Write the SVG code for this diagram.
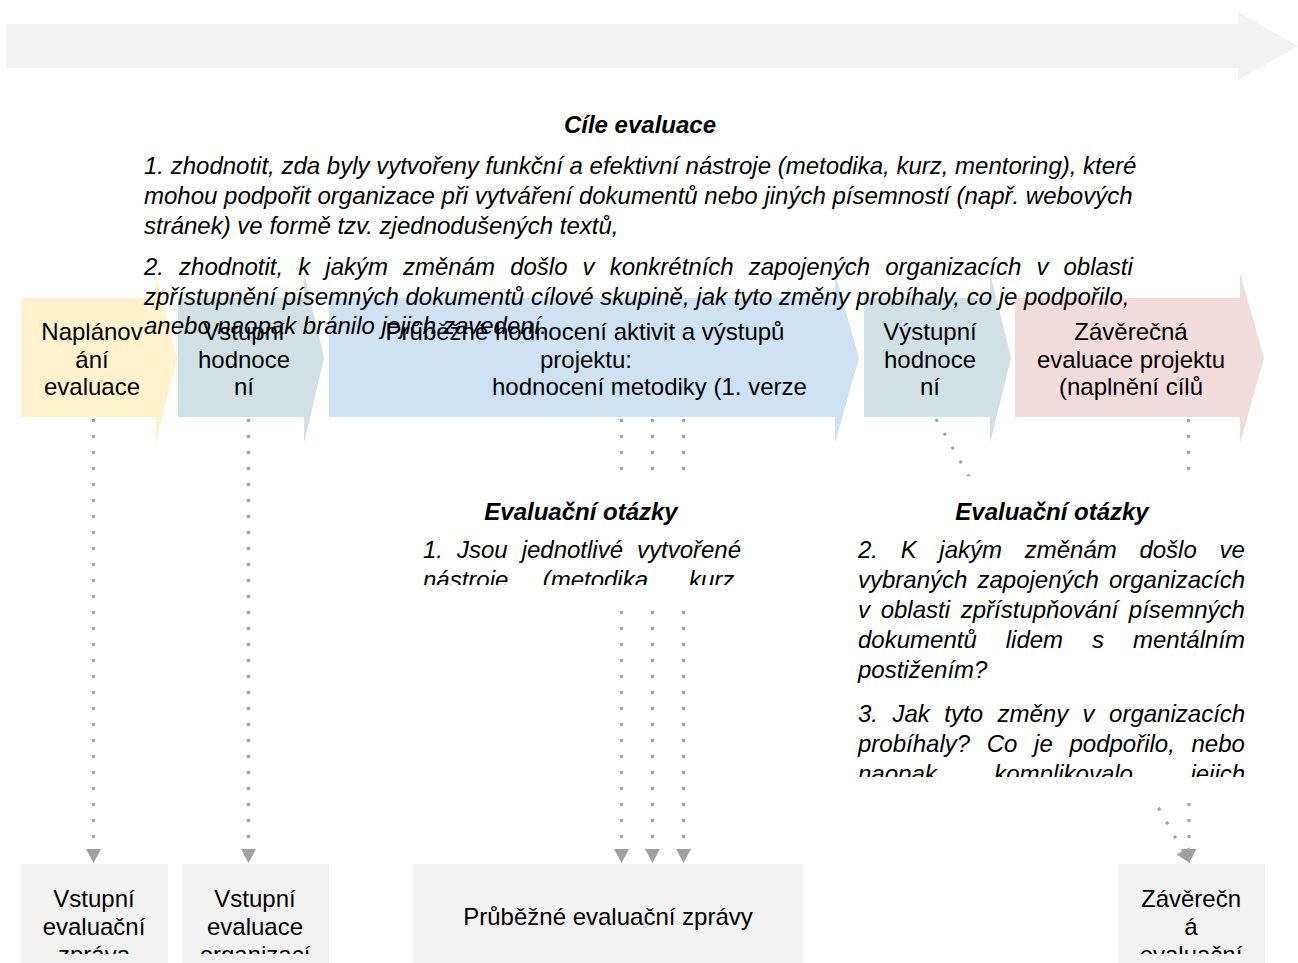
<svg xmlns="http://www.w3.org/2000/svg" width="1298" height="963" viewBox="0 0 1298 963">
<style>
  text { font-family: "Liberation Sans", Arial, sans-serif; font-size: 24px; fill: #000; }
  .c { text-anchor: middle; }
  .it { font-style: italic; }
  .bi { font-style: italic; font-weight: bold; }
  .conn { fill: none; stroke: #a0a0a0; stroke-width: 3; stroke-dasharray: 3 13; }
  .box { fill: #f2f2f2; }
</style>
<defs>
  <marker id="ah" markerUnits="userSpaceOnUse" markerWidth="16" markerHeight="16" refX="14" refY="7.5" orient="auto">
    <path d="M0,0 L14,7.5 L0,15 z" fill="#a0a0a0"/>
  </marker>
  <clipPath id="clipQ1"><rect x="400" y="480" width="360" height="105"/></clipPath>
  <clipPath id="clipQ2"><rect x="840" y="480" width="420" height="297"/></clipPath>
  <clipPath id="clipB1"><rect x="21" y="864" width="147" height="90"/></clipPath>
  <clipPath id="clipB2"><rect x="182" y="864" width="147" height="90"/></clipPath>
  <clipPath id="clipB4"><rect x="1118" y="864" width="147" height="90"/></clipPath>
</defs>

<g id="timeline">
  <polygon points="6,24 1238,24 1238,12 1298,46 1238,80 1238,68 6,68" fill="#f2f2f2"/>
</g>

<g id="stage1">
  <polygon points="21,298 156,298 156,273 177,358 156,443 156,417 21,417" fill="#fff2cc"/>
  <text class="c" x="92" y="340">Naplánov</text>
  <text class="c" x="92" y="368">ání</text>
  <text class="c" x="92" y="395">evaluace</text>
</g>
<g id="stage2">
  <polygon points="178,298 304,298 304,273 324,358 304,443 304,417 178,417" fill="#d0e0e3"/>
  <text class="c" x="244" y="340">Vstupní</text>
  <text class="c" x="244" y="368">hodnoce</text>
  <text class="c" x="244" y="395">ní</text>
</g>
<g id="stage3">
  <polygon points="329,298 835,298 835,273 859,358 835,443 835,417 329,417" fill="#cfe2f3"/>
  <text class="c" x="585" y="340">Průběžné hodnocení aktivit a výstupů</text>
  <text class="c" x="586" y="368">projektu:</text>
  <text x="492" y="395">hodnocení metodiky (1. verze</text>
</g>
<g id="stage4">
  <polygon points="864,298 990,298 990,273 1011,358 990,443 990,417 864,417" fill="#d0e0e3"/>
  <text class="c" x="930" y="340">Výstupní</text>
  <text class="c" x="930" y="368">hodnoce</text>
  <text class="c" x="930" y="395">ní</text>
</g>
<g id="stage5">
  <polygon points="1015,298 1240,298 1240,273 1264,358 1240,443 1240,417 1015,417" fill="#f2dcdb"/>
  <text class="c" x="1131" y="340">Závěrečná</text>
  <text class="c" x="1131" y="368">evaluace projektu</text>
  <text class="c" x="1131" y="395">(naplnění cílů</text>
</g>

<g id="goals">
  <text class="bi c" x="640" y="133">Cíle evaluace</text>
  <text class="it" x="144" y="174">1. zhodnotit, zda byly vytvořeny funkční a efektivní nástroje (metodika, kurz, mentoring), které</text>
  <text class="it" x="144" y="204">mohou podpořit organizace při vytváření dokumentů nebo jiných písemností (např. webových</text>
  <text class="it" x="144" y="234">stránek) ve formě tzv. zjednodušených textů,</text>
  <text class="it" x="144" y="275" style="word-spacing:8.4px">2. zhodnotit, k jakým změnám došlo v konkrétních zapojených organizacích v oblasti</text>
  <text class="it" x="144" y="305">zpřístupnění písemných dokumentů cílové skupině, jak tyto změny probíhaly, co je podpořilo,</text>
  <text class="it" x="144" y="334">anebo naopak bránilo jejich zavedení.</text>
</g>

<g id="connectors">
  <line class="conn" x1="93.5" y1="419" x2="93.5" y2="863" marker-end="url(#ah)"/>
  <line class="conn" x1="248.5" y1="419" x2="248.5" y2="863" marker-end="url(#ah)"/>
  <line class="conn" x1="621.5" y1="419" x2="621.5" y2="863" marker-end="url(#ah)"/>
  <line class="conn" x1="652.5" y1="419" x2="652.5" y2="863" marker-end="url(#ah)"/>
  <line class="conn" x1="683.5" y1="419" x2="683.5" y2="863" marker-end="url(#ah)"/>
  <line class="conn" x1="936" y1="419" x2="1190" y2="863" marker-end="url(#ah)"/>
  <line class="conn" x1="1188.5" y1="419" x2="1189" y2="863" marker-end="url(#ah)"/>
</g>

<g id="questions1">
  <rect x="413" y="476" width="338" height="130" fill="#fff"/>
  <text class="bi c" x="581" y="520">Evaluační otázky</text>
  <g clip-path="url(#clipQ1)">
    <text class="it" x="423" y="558" style="word-spacing:7.3px">1. Jsou jednotlivé vytvořené</text>
    <text class="it" x="423" y="588" style="word-spacing:27.6px">nástroje (metodika, kurz,</text>
  </g>
</g>

<g id="questions2">
  <rect x="848" y="476" width="407" height="321" fill="#fff"/>
  <text class="bi c" x="1052" y="520">Evaluační otázky</text>
  <g clip-path="url(#clipQ2)">
    <text class="it" x="858" y="558" style="word-spacing:16px">2. K jakým změnám došlo ve</text>
    <text class="it" x="858" y="588" style="word-spacing:3.4px">vybraných zapojených organizacích</text>
    <text class="it" x="858" y="618" style="word-spacing:4px">v oblasti zpřístupňování písemných</text>
    <text class="it" x="858" y="648" style="word-spacing:22.3px">dokumentů lidem s mentálním</text>
    <text class="it" x="858" y="678">postižením?</text>
    <text class="it" x="858" y="722" style="word-spacing:7.8px">3. Jak tyto změny v organizacích</text>
    <text class="it" x="858" y="752" style="word-spacing:10px">probíhaly? Co je podpořilo, nebo</text>
    <text class="it" x="858" y="782" style="word-spacing:50.8px">naopak komplikovalo jejich</text>
  </g>
</g>

<g id="report1">
  <rect class="box" x="21" y="864" width="147" height="99"/>
  <g clip-path="url(#clipB1)">
    <text class="c" x="94" y="907">Vstupní</text>
    <text class="c" x="94" y="935">evaluační</text>
    <text class="c" x="94" y="963">zpráva</text>
  </g>
</g>
<g id="report2">
  <rect class="box" x="182" y="864" width="147" height="99"/>
  <g clip-path="url(#clipB2)">
    <text class="c" x="255" y="907">Vstupní</text>
    <text class="c" x="255" y="935">evaluace</text>
    <text class="c" x="255" y="963">organizací</text>
  </g>
</g>
<g id="report3">
  <rect class="box" x="413" y="864" width="390" height="99"/>
  <text class="c" x="608" y="925">Průběžné evaluační zprávy</text>
</g>
<g id="report4">
  <rect class="box" x="1118" y="864" width="147" height="99"/>
  <g clip-path="url(#clipB4)">
    <text class="c" x="1191" y="907">Závěrečn</text>
    <text class="c" x="1191" y="935">á</text>
    <text class="c" x="1191" y="963">evaluační</text>
  </g>
</g>
</svg>
